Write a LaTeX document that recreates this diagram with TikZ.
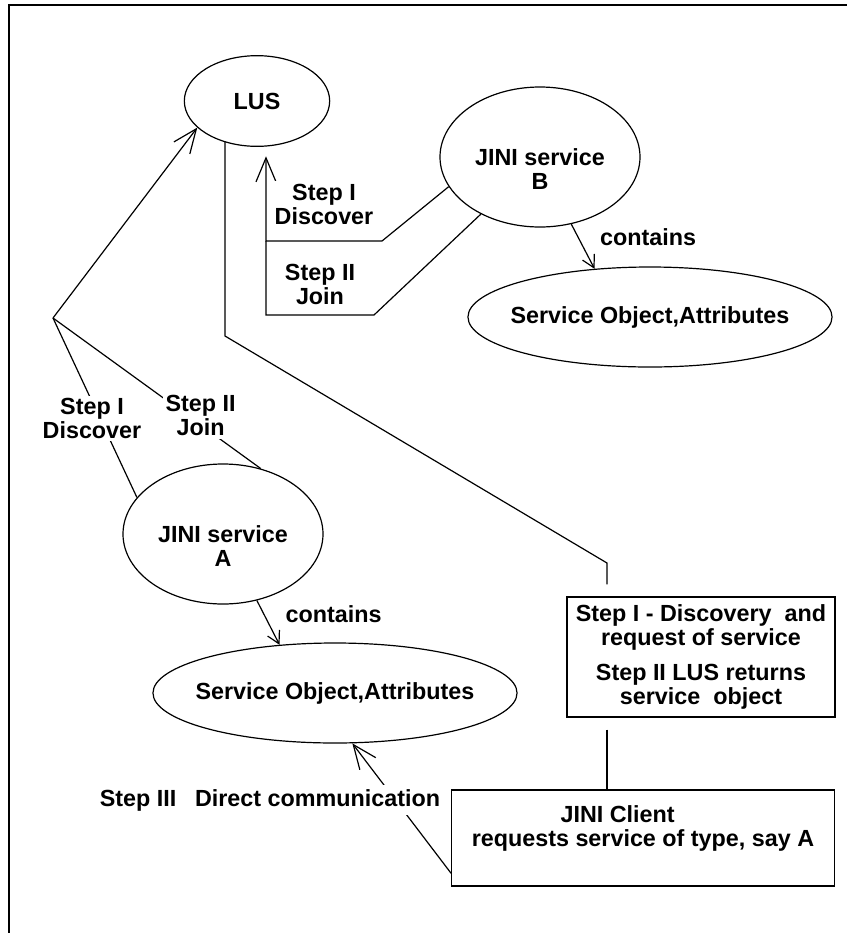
\documentclass[tikz,border=0pt]{standalone}
\usepackage{fontspec}
\setmainfont{Liberation Sans}
\usepackage{tikz}
\usetikzlibrary{arrows.meta,shapes.geometric}
\tikzset{
  % Ellipses
  oval/.style={draw,ellipse,inner sep=-8pt,align=center},
  jini/.style={oval,minimum width=150pt,minimum height=105pt,
               text height=52.6pt,text depth=4pt},
  obj/.style={oval,minimum width=273pt,minimum height=75pt},
  % Boxes
  box/.style={draw,rectangle,align=center,inner sep=2pt},
  % Connectors & labels
  fl/.style={-{Straight Barb[length=18pt,width=15pt]}},
  flsmall/.style={-{Straight Barb[length=9pt,width=10pt]}},
  lbl/.style={fill=white,inner sep=2pt,align=center}
}

\begin{document}
\begin{tikzpicture}[x=0.75pt,y=-0.75pt,line width=0.9pt,
    font=\bfseries\fontsize{17.5}{18}\selectfont]
  \useasboundingbox (0,0) rectangle (847,933);
  \draw[line width=1.8pt] (9,933) -- (9,5) -- (847,5);

  \node[oval,minimum width=109pt,minimum height=68pt] (lus) at (257,101) {LUS};
  \node[jini] (jiniB) at (540,157) {JINI service\\B};
  \node[jini] (jiniA) at (223,534) {JINI service\\A};
  \node[obj] (soB) at (650,317) {Service Object,Attributes};
  \node[obj] (soA) at (335,693) {Service Object,Attributes};

  \node[box,minimum width=201pt,minimum height=90pt] (stepbox) at (701,657)
    {Step I - Discovery~~and\\request of service\\[8pt]Step II LUS returns\\service~~object};
  \node[box,minimum width=287pt,minimum height=72pt,text height=34.6pt,text depth=22pt]
    (client) at (643,838) {JINI Client\hspace*{38pt}\\requests service of type, say A};

  \coordinate (fork) at (53,318);
  \coordinate (discbend) at (266,241);
  \coordinate (joinfoot) at (266,315);
  \coordinate (lusbend) at (225,336);
  \coordinate (boxbend) at (607,563);

  % service A -> LUS
  \draw[fl] (fork) -- (lus.204);
  \draw (fork) -- node[pos=0.56,xshift=-6pt,lbl] {Step I\\Discover} (jiniA.157);
  \draw (fork) -- node[pos=0.71,yshift=7pt,lbl] {Step II\\Join} (jiniA.60);

  % service B -> LUS
  \draw[fl,shorten >=7pt] (jiniB.198) -- (382,241)
    -- node[midway,above=10pt,lbl] {Step I\\Discover} (discbend) -- (lus.south -| discbend);
  \draw (jiniB.224) -- (374,315)
    -- node[midway,above=5pt,lbl] {Step II\\Join} (joinfoot) -- (discbend);

  % contains
  \draw[flsmall] (jiniB.295) -- node[pos=0.3,right=14pt,lbl] {contains} (soB.139);
  \draw[flsmall] (jiniA.297) -- node[pos=0.3,right=14pt,lbl] {contains} (soA.139);

  % LUS <-> client
  \draw[shorten >=9pt] (lusbend |- lus.231) -- (lusbend) -- (boxbend) -- (boxbend |- stepbox.north);
  \draw[shorten <=9pt] (boxbend |- stepbox.south) -- (boxbend |- client.north);

  % client -> service A
  \draw[fl] ([yshift=10pt]client.south west) -- (soA.289);
  \node[lbl,inner sep=3pt] (stepthree) at (270,800) {Step III\hspace{14pt}Direct communication};
\end{tikzpicture}
\end{document}
